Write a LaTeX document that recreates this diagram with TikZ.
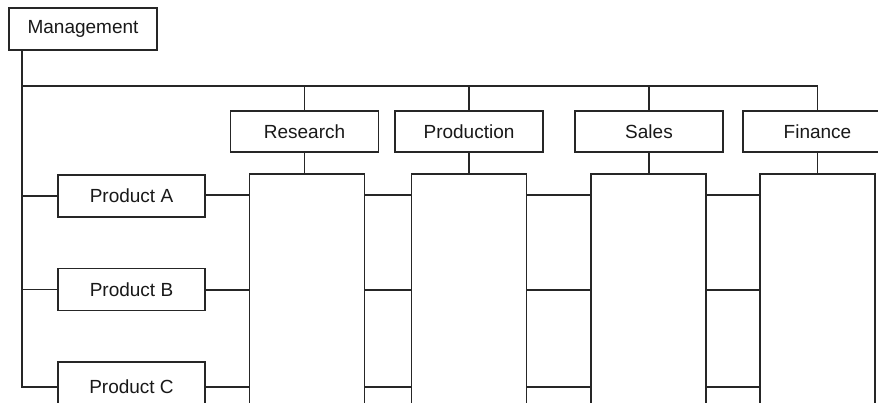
\documentclass[tikz,border=0pt]{standalone}
\usepackage{fontspec}
\setmainfont{Liberation Sans}
\begin{document}
\begin{tikzpicture}[x=1pt,y=-1pt,
  every node/.style={inner sep=0pt},
  box/.style={draw=black!85,line width=1.5pt,fill=white,font=\fontsize{19}{22}\selectfont,text=black!90},
  dept/.style={box,minimum width=148pt,minimum height=41pt},
  prod/.style={box,minimum width=147pt,minimum height=42pt},
  col/.style={box,minimum width=115pt,minimum height=260pt,anchor=north},
  conn/.style={draw=black!85,line width=1.5pt}]
\clip (0,0) rectangle (878,402);
\fill[white] (0,0) rectangle (878,402);
% nodes
\node[box,minimum width=148pt,minimum height=42pt] (mgmt) at (83,29) {Management};
\node[dept] (res) at (304.5,131.5) {Research};
\node[dept] (pro) at (469,131.5) {Production};
\node[dept] (sal) at (649,131.5) {Sales};
\node[dept,minimum width=149pt] (fin) at (817.5,131.5) {Finance};
\node[prod] (pa) at (131.5,196) {Product A};
\node[prod] (pb) at (131.5,289.5) {Product B};
\node[prod,minimum height=50pt] (pc) at (131.5,387) {Product C};
\node[col] (cres) at (307,173) {};
\node[col] (cpro) at (469,173) {};
\node[col] (csal) at (648.5,173) {};
\node[col] (cfin) at (817.5,173) {};
% coordinates
\coordinate (trunk) at (22,50);
\coordinate (bus) at (22,86);
\coordinate (busend) at (817.5,86);
% connectors
\draw[conn] (trunk) |- (pc.west);
\draw[conn] (bus) -- (busend);
\draw[conn] (bus) -| (res.north);
\draw[conn] (bus) -| (pro.north);
\draw[conn] (bus) -| (sal.north);
\draw[conn] (bus) -| (fin.north);
\draw[conn] (res.south) -- (res.south |- cres.north);
\draw[conn] (pro.south) -- (cpro.north);
\draw[conn] (sal.south) -- (sal.south |- csal.north);
\draw[conn] (fin.south) -- (cfin.north);
\draw[conn] (trunk |- pa.west) -- (pa.west);
\draw[conn] (trunk |- pb.west) -- (pb.west);
\foreach \p/\y in {pa/195,pb/290,pc/387}{
  \draw[conn] (\p.east |- 0,\y) -- (cres.west |- 0,\y);
  \draw[conn] (cres.east |- 0,\y) -- (cpro.west |- 0,\y);
  \draw[conn] (cpro.east |- 0,\y) -- (csal.west |- 0,\y);
  \draw[conn] (csal.east |- 0,\y) -- (cfin.west |- 0,\y);
}
\end{tikzpicture}
\end{document}
